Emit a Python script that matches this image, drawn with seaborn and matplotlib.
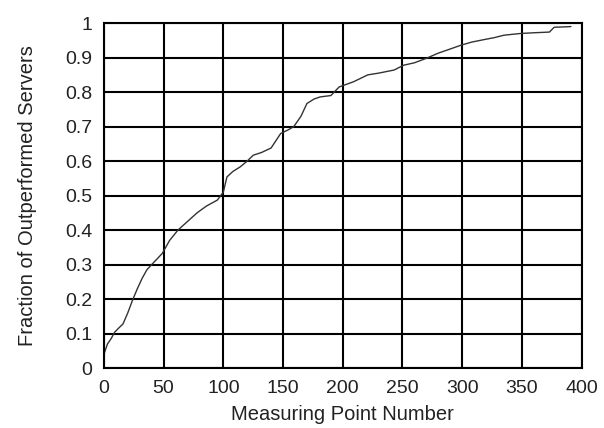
import numpy as np
import pandas as pd
import seaborn as sns
import matplotlib.pyplot as plt

# values
point_number = [0, 3, 6, 9, 13, 16, 20, 24, 28, 32, 36, 40, 45, 49, 55, 62, 70, 78,
                86, 95, 100, 103, 108, 114, 120, 125, 132, 140, 148, 154, 159, 165,
                170, 176, 181, 190, 197, 205, 209, 215, 221, 230, 243, 251, 260, 270,
                280, 290, 299, 308, 318, 327, 335, 349, 360, 373, 377, 385, 391]
fraction = [0.04, 0.07, 0.085, 0.104, 0.118, 0.128, 0.16, 0.197, 0.23, 0.26, 0.285,
            0.30, 0.318, 0.333, 0.37, 0.40, 0.425, 0.45, 0.47, 0.487, 0.51, 0.554,
            0.57, 0.583, 0.60, 0.617, 0.625, 0.638, 0.68, 0.69, 0.70, 0.73, 0.767,
            0.78, 0.786, 0.79, 0.815, 0.825, 0.83, 0.84, 0.85, 0.855, 0.864, 0.878,
            0.885, 0.898, 0.913, 0.925, 0.936, 0.945, 0.952, 0.958, 0.965, 0.97,
            0.972, 0.974, 0.988, 0.989, 0.99]

df = pd.DataFrame({"x": point_number, "y": fraction})

sns.set_style("white")
plt.rcParams['font.family'] = ['Liberation Sans', 'DejaVu Sans']

fig, ax = plt.subplots(figsize=(6.04, 4.28), dpi=100)
fig.subplots_adjust(left=0.172, right=0.963, top=0.946, bottom=0.14)

sns.lineplot(data=df, x="x", y="y", ax=ax, color="#333333", linewidth=1.0)

ax.set_xlim(0, 400)
ax.set_ylim(0, 1)
ax.set_xticks(np.arange(0, 401, 50))
ax.set_yticks(np.arange(0, 1.01, 0.1))
ax.set_yticklabels(["0", "0.1", "0.2", "0.3", "0.4", "0.5", "0.6", "0.7", "0.8", "0.9", "1"])
ax.grid(True, color="black", linewidth=1.5)
ax.set_axisbelow(True)
for s in ax.spines.values():
    s.set_color("black")
    s.set_linewidth(1.5)
ax.tick_params(axis="y", length=0, labelsize=14, colors="#222222", pad=8.5)
ax.tick_params(axis="x", length=0, labelsize=14, colors="#222222", pad=8.5)
ax.set_xlabel("Measuring Point Number", fontsize=14.5, color="#222222", labelpad=6)
ax.set_ylabel("Fraction of Outperformed Servers", fontsize=14.5, color="#222222",
              labelpad=20)

fig.savefig("out.png", dpi=100)
